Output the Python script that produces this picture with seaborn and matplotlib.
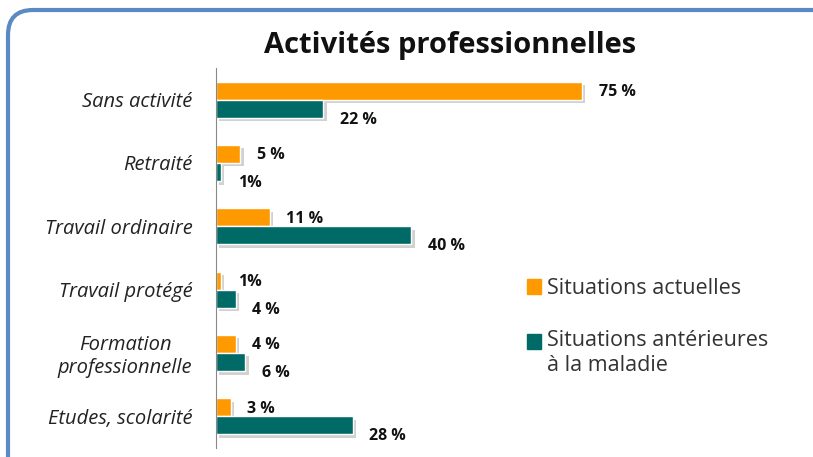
import pandas as pd
import seaborn as sns
import matplotlib.pyplot as plt
import matplotlib.patheffects as pe
from matplotlib.patches import FancyBboxPatch, Rectangle
from matplotlib.legend_handler import HandlerPatch

categories = ["Sans activité", "Retraité", "Travail ordinaire", "Travail protégé",
              "Formation\nprofessionnelle", "Etudes, scolarité"]
series = ["Situations actuelles", "Situations antérieures\nà la maladie"]
actuelles = [75, 5, 11, 1, 4, 3]
anterieures = [22, 1, 40, 4, 6, 28]
labels_act = ["75 %", "5 %", "11 %", "1%", "4 %", "3 %"]
labels_ant = ["22 %", "1%", "40 %", "4 %", "6 %", "28 %"]
colors = ["#FF9900", "#006A66"]

df = pd.DataFrame({
    "cat": categories * 2,
    "val": actuelles + anterieures,
    "serie": [series[0]] * 6 + [series[1]] * 6,
})

sns.set_style("white")
plt.rcParams["font.family"] = ["Open Sans", "DejaVu Sans"]

fig = plt.figure(figsize=(8.13, 4.57), dpi=100)
ax = fig.add_axes([216 / 813, 9 / 457, (795 - 216) / 813, (448 - 68) / 457])

sns.barplot(data=df, x="val", y="cat", hue="serie", order=categories,
            hue_order=series, palette=colors, width=0.57, saturation=1,
            orient="h", ax=ax, legend=False)

for p in ax.patches:
    p.set_path_effects([pe.SimplePatchShadow(offset=(2.5, -2.5), shadow_rgbFace="#9a9a9a",
                                             alpha=0.45), pe.Normal()])

for i, (cont, labs) in enumerate(zip(ax.containers, [labels_act, labels_ant])):
    texts = ax.bar_label(cont, labels=labs, padding=12, fontsize=11.5, fontweight="bold",
                         color="#111111")
    for t in texts:
        t.xyann = (t.xyann[0], -8 if i == 1 else -1)

ax.set_xlim(0, (795 - 216) / 4.88)
ax.set_ylim(5.5, -0.5)
ax.set_xlabel("")
ax.set_ylabel("")
ax.set_xticks([])
for s in ["top", "right", "bottom"]:
    ax.spines[s].set_visible(False)
ax.spines["left"].set_color("#888888")
ax.tick_params(axis="y", which="major", length=0, pad=17)
ax.set_yticks([i + 0.5 for i in range(-1, 6)], minor=True)
ax.tick_params(axis="y", which="minor", length=5, color="#888888", direction="out")
for t in ax.get_yticklabels():
    t.set_fontstyle("italic")
    t.set_fontsize(14.5)
    t.set_color("#222222")
    t.set_multialignment("center")


def top_square(legend, orig_handle, xdescent, ydescent, width, height, fontsize):
    # square aligned with the first line of a two-line label
    return Rectangle((-xdescent, -ydescent + 0.55 * fontsize), width, height)


handles = [Rectangle((0, 0), 1, 1, color=c) for c in colors]
leg = ax.legend(handles, series, loc="upper left", bbox_to_anchor=(0.503, 0.498),
                frameon=False, fontsize=15.5, handlelength=0.65, handleheight=0.65,
                handletextpad=0.3, labelspacing=1.45,
                handler_map={handles[1]: HandlerPatch(patch_func=top_square)})
for t in leg.get_texts():
    t.set_color("#333333")

fig.text(450 / 813, 1 - 45 / 457, "Activités professionnelles", ha="center",
         va="center", fontsize=21, fontweight="bold", color="#111111")

frame = FancyBboxPatch((8 / 100, -0.5), 9.0, (457 - 10) / 100 + 0.5,
                       boxstyle="round,pad=0,rounding_size=0.25",
                       transform=fig.dpi_scale_trans, fill=False,
                       edgecolor="#5B89C4", linewidth=3, clip_on=False)
fig.patches.append(frame)

fig.savefig("out.png", dpi=100)
